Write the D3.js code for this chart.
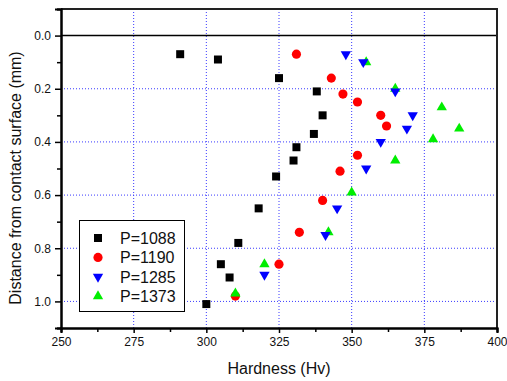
<!DOCTYPE html>
<html>
<head>
<meta charset="utf-8">
<script src="https://cdn.jsdelivr.net/npm/d3@7"></script>
<style>
  body { margin: 0; background: #fff; }
  svg { font-family: Arial, "Liberation Sans", sans-serif; }
</style>
</head>
<body>
<svg class="chart" width="507" height="381"></svg>
<script>
// hardness (Hv) and depth (mm) for each load
const hv1088 = [291, 304, 325, 338, 340, 337, 331, 330, 324, 318, 311, 305, 308, 300];
const d1088 = [0.07, 0.09, 0.16, 0.21, 0.30, 0.37, 0.42, 0.47, 0.53, 0.65, 0.78, 0.86, 0.91, 1.01];
const hv1190 = [331, 343, 347, 352, 360, 362, 352, 346, 340, 332, 325, 310];
const d1190 = [0.07, 0.16, 0.22, 0.25, 0.30, 0.34, 0.45, 0.51, 0.62, 0.74, 0.86, 0.98];
const hv1285 = [348, 354, 365, 371, 369, 360, 355, 345, 341, 320];
const d1285 = [0.07, 0.10, 0.21, 0.30, 0.35, 0.40, 0.50, 0.65, 0.75, 0.90];
const hv1373 = [355, 365, 381, 387, 378, 365, 350, 342, 320, 310];
const d1373 = [0.10, 0.20, 0.27, 0.35, 0.39, 0.47, 0.59, 0.74, 0.86, 0.97];

const xTicks = [250, 275, 300, 325, 350, 375, 400];
const yTicks = [0.0, 0.2, 0.4, 0.6, 0.8, 1.0];

const svg = d3.select(".chart");
const plot = { left: 61, right: 497, top: 9, bottom: 328 };

const xScale = d3.scaleLinear().domain([250, 400]).range([plot.left, plot.right]);
const yScale = d3.scaleLinear().domain([-0.1, 1.1]).range([plot.top, plot.bottom]);

const series = [
  { name: "P=1088", hv: hv1088, d: d1088, color: "#000000", shape: "square" },
  { name: "P=1190", hv: hv1190, d: d1190, color: "#ff0000", shape: "circle" },
  { name: "P=1373", hv: hv1373, d: d1373, color: "#00ee00", shape: "up" },
  { name: "P=1285", hv: hv1285, d: d1285, color: "#0000ff", shape: "down" },
];
const legendOrder = ["P=1088", "P=1190", "P=1285", "P=1373"];

function symbolPath(shape) {
  if (shape === "square") return d3.symbol(d3.symbolSquare, 64)();
  if (shape === "circle") return d3.symbol(d3.symbolCircle, 66)();
  return d3.symbol(d3.symbolTriangle, 46)();
}
function symbolTransform(shape, x, y) {
  if (shape === "down") return `translate(${x},${y}) rotate(180)`;
  return `translate(${x},${y})`;
}

// grid
const grid = svg.append("g");
grid.selectAll(".vg")
  .data(xTicks.filter((t) => t > 250 && t < 400))
  .enter()
  .append("line")
  .attr("x1", (d) => xScale(d))
  .attr("x2", (d) => xScale(d))
  .attr("y1", plot.top)
  .attr("y2", plot.bottom)
  .attr("stroke", "#3a3aff")
  .attr("stroke-width", 1)
  .attr("stroke-dasharray", "1,2");
grid.selectAll(".hg")
  .data(yTicks.filter((t) => t > 0))
  .enter()
  .append("line")
  .attr("x1", plot.left)
  .attr("x2", plot.right)
  .attr("y1", (d) => yScale(d))
  .attr("y2", (d) => yScale(d))
  .attr("stroke", "#3a3aff")
  .attr("stroke-width", 1)
  .attr("stroke-dasharray", "1,2");

// zero line
svg.append("line")
  .attr("x1", plot.left).attr("x2", plot.right)
  .attr("y1", yScale(0)).attr("y2", yScale(0))
  .attr("stroke", "#000").attr("stroke-width", 1.5);

// frame (top and right)
svg.append("path")
  .attr("d", `M${plot.left},${plot.top}H${plot.right}V${plot.bottom}`)
  .attr("fill", "none")
  .attr("stroke", "#222")
  .attr("stroke-width", 2);

// axes
const xAxis = svg.append("g")
  .attr("transform", `translate(0,${plot.bottom})`)
  .call(d3.axisBottom(xScale).tickValues(xTicks).tickSize(5).tickPadding(4).tickFormat(d3.format("d")));
const xMinor = svg.append("g")
  .attr("transform", `translate(0,${plot.bottom})`)
  .call(d3.axisBottom(xScale).tickValues(d3.range(262.5, 400, 25)).tickSize(4).tickFormat(""));

const yAxis = svg.append("g")
  .attr("transform", `translate(${plot.left},0)`)
  .call(d3.axisLeft(yScale).tickValues(yTicks).tickSize(6).tickPadding(4).tickFormat(d3.format(".1f")));
const yMinor = svg.append("g")
  .attr("transform", `translate(${plot.left},0)`)
  .call(d3.axisLeft(yScale).tickValues([-0.1, 0.1, 0.3, 0.5, 0.7, 0.9, 1.1]).tickSize(4).tickFormat(""));

[xAxis, xMinor, yAxis, yMinor].forEach((a) => {
  a.select(".domain").attr("stroke", "#000").attr("stroke-width", 2);
  a.selectAll(".tick line").attr("stroke", "#000").attr("stroke-width", 1.5);
  a.selectAll("text").attr("font-size", 12).attr("fill", "#111").attr("font-family", "Arial, 'Liberation Sans', sans-serif");
});

// points
series.forEach((s) => {
  svg.append("g")
    .selectAll("path")
    .data(s.hv.map((h, i) => ({ hv: h, d: s.d[i] })))
    .enter()
    .append("path")
    .attr("d", symbolPath(s.shape))
    .attr("transform", (p) => symbolTransform(s.shape, xScale(p.hv), yScale(p.d)))
    .attr("fill", s.color);
});

// axis titles
svg.append("text")
  .attr("x", (plot.left + plot.right) / 2)
  .attr("y", 374)
  .attr("text-anchor", "middle")
  .attr("font-size", 16)
  .attr("fill", "#111")
  .text("Hardness (Hv)");

svg.append("text")
  .attr("transform", "translate(21,178) rotate(-90)")
  .attr("text-anchor", "middle")
  .attr("font-size", 16)
  .attr("fill", "#111")
  .text("Distance from contact surface (mm)");

// legend
const legend = svg.append("g");
legend.append("rect")
  .attr("x", 79.5).attr("y", 220.5)
  .attr("width", 105).attr("height", 91)
  .attr("fill", "#fff")
  .attr("stroke", "#000")
  .attr("stroke-width", 1);

legendOrder.forEach((name, i) => {
  const s = series.find((k) => k.name === name);
  const y = 238 + i * 19.4;
  legend.append("path")
    .attr("d", symbolPath(s.shape))
    .attr("transform", symbolTransform(s.shape, 98, y))
    .attr("fill", s.color);
  legend.append("text")
    .attr("x", 120)
    .attr("y", y + 6)
    .attr("font-size", 16)
    .attr("fill", "#111")
    .text(name);
});
</script>
</body>
</html>
